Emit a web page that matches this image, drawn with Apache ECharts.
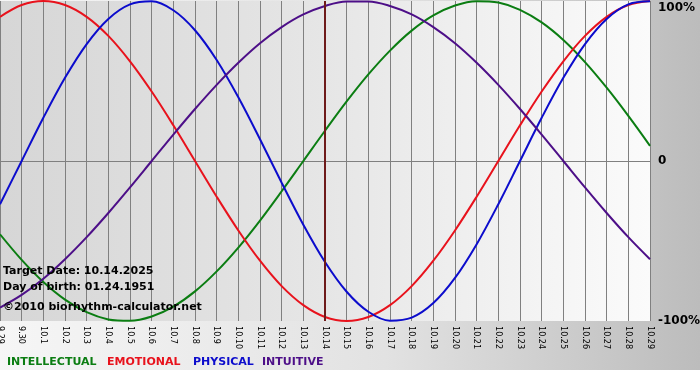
<!DOCTYPE html>
<html>
<head>
<meta charset="utf-8">
<script src="https://cdn.jsdelivr.net/npm/echarts@6/dist/echarts.min.js"></script>
<style>
  html, body { margin: 0; padding: 0; background: #fff; }
  #chart { width: 700px; height: 380px; }
</style>
</head>
<body>
<div id="chart"></div>
<script>
  // dates (month.day), 9.29 .. 10.29
  var days = ['9.29', '9.30', '10.1', '10.2', '10.3', '10.4', '10.5', '10.6', '10.7', '10.8',
    '10.9', '10.10', '10.11', '10.12', '10.13', '10.14', '10.15', '10.16', '10.17', '10.18',
    '10.19', '10.20', '10.21', '10.22', '10.23', '10.24', '10.25', '10.26', '10.27', '10.28', '10.29'];

  var intellectual = [-45.8, -61.8, -75.6, -86.6, -94.5, -99.0, -99.9, -97.2, -91.0, -81.5,
    -69.0, -54.1, -37.2, -18.9, 0, 18.9, 37.2, 54.1, 69.0, 81.5,
    91.0, 97.2, 99.9, 99.0, 94.5, 86.6, 75.6, 61.8, 45.8, 28.2, 9.5];

  var emotional = [90.1, 97.5, 100, 97.5, 90.1, 78.2, 62.3, 43.4, 22.3, 0,
    -22.3, -43.4, -62.3, -78.2, -90.1, -97.5, -100, -97.5, -90.1, -78.2,
    -62.3, -43.4, -22.3, 0, 22.3, 43.4, 62.3, 78.2, 90.1, 97.5, 100];

  var physical = [-27.0, 0, 27.0, 52.0, 73.1, 88.8, 97.9, 99.8, 94.2, 81.7,
    63.1, 39.8, 13.6, -13.6, -39.8, -63.1, -81.7, -94.2, -99.8, -97.9,
    -88.8, -73.1, -52.0, -27.0, 0, 27.0, 52.0, 73.1, 88.8, 97.9, 99.8];

  var intuitive = [-91.6, -83.7, -73.6, -61.4, -47.6, -32.5, -16.5, 0, 16.5, 32.5,
    47.6, 61.4, 73.6, 83.7, 91.6, 96.9, 99.7, 99.7, 96.9, 91.6,
    83.7, 73.6, 61.4, 47.6, 32.5, 16.5, 0, -16.5, -32.5, -47.6, -61.4];

  var targetDay = '10.14';
  var infoLines = ['Target Date: 10.14.2025', 'Day of birth: 01.24.1951', '©2010 biorhythm-calculator.net'];
  var legendNames = ['INTELLECTUAL', 'EMOTIONAL', 'PHYSICAL', 'INTUITIVE'];
  var colors = ['#0b7d12', '#e8121c', '#0c0ccc', '#4d0f88'];

  var chart = echarts.init(document.getElementById('chart'));

  function line(name, data, color) {
    return {
      name: name,
      type: 'line',
      data: data,
      smooth: 0.35,
      symbol: 'none',
      silent: true,
      lineStyle: { color: color, width: 2 }
    };
  }

  var series = [
    line('INTELLECTUAL', intellectual, colors[0]),
    line('EMOTIONAL', emotional, colors[1]),
    line('PHYSICAL', physical, colors[2]),
    line('INTUITIVE', intuitive, colors[3])
  ];
  // cursor at the target date
  series[0].markLine = {
    silent: true,
    symbol: 'none',
    label: { show: false },
    lineStyle: { color: '#6e1a1a', width: 2, type: 'solid' },
    data: [{ xAxis: targetDay }]
  };

  var legendX = [7, 107, 193, 262];
  var graphics = [{
    type: 'rect',
    z: -1,
    shape: { x: 0, y: 0, width: 700, height: 370 },
    style: {
      fill: new echarts.graphic.LinearGradient(0, 0, 1, 0, [
        { offset: 0, color: '#f6f6f6' },
        { offset: 0.55, color: '#e2e2e2' },
        { offset: 1, color: '#bcbcbc' }
      ])
    }
  }];
  infoLines.forEach(function (t, i) {
    graphics.push({
      type: 'text', left: 3, top: [266, 282, 302][i], z: 100,
      style: { text: t, font: 'bold 11px "DejaVu Sans"', fill: '#000' }
    });
  });
  legendNames.forEach(function (t, i) {
    graphics.push({
      type: 'text', left: legendX[i], top: 357, z: 100,
      style: { text: t, font: 'bold 11px "DejaVu Sans"', fill: colors[i] }
    });
  });

  var option = {
    animation: false,
    backgroundColor: '#ffffff',
    grid: {
      left: 0, right: 50, top: 1, bottom: 59,
      outerBoundsMode: 'none',
      containLabel: false,
      show: true,
      borderWidth: 0,
      backgroundColor: new echarts.graphic.LinearGradient(0, 0, 1, 0, [
        { offset: 0, color: '#d6d6d6' },
        { offset: 0.5, color: '#e6e6e6' },
        { offset: 1, color: '#fbfbfb' }
      ])
    },
    xAxis: {
      type: 'category',
      boundaryGap: false,
      data: days,
      axisLine: { lineStyle: { color: '#808080', width: 1 } },
      axisTick: { show: true, length: 3, interval: 0, lineStyle: { color: '#808080' } },
      splitLine: { show: true, interval: 0, lineStyle: { color: '#808080', width: 1 } },
      axisLabel: {
        interval: 0, rotate: -90, margin: 5,
        fontFamily: '"DejaVu Sans Condensed", "DejaVu Sans"', fontSize: 9, color: '#000'
      }
    },
    yAxis: {
      type: 'value',
      position: 'right',
      min: -100, max: 100, interval: 100,
      axisLine: { show: false },
      axisTick: { show: false },
      splitLine: {
        show: true,
        lineStyle: { color: ['rgba(0,0,0,0)', '#808080', 'rgba(0,0,0,0)'], width: 1 }
      },
      axisLabel: {
        margin: 8,
        fontFamily: 'DejaVu Sans', fontSize: 12, fontWeight: 'bold', color: '#000',
        formatter: function (v) {
          if (v === 0) return '0';
          if (v === 100) return '{t|100%}';
          return v + '%';
        },
        rich: {
          t: { fontFamily: 'DejaVu Sans', fontSize: 12, fontWeight: 'bold', color: '#000', padding: [13, 0, 0, 0] }
        }
      }
    },
    graphic: graphics,
    series: series
  };

  chart.setOption(option);
</script>
</body>
</html>
